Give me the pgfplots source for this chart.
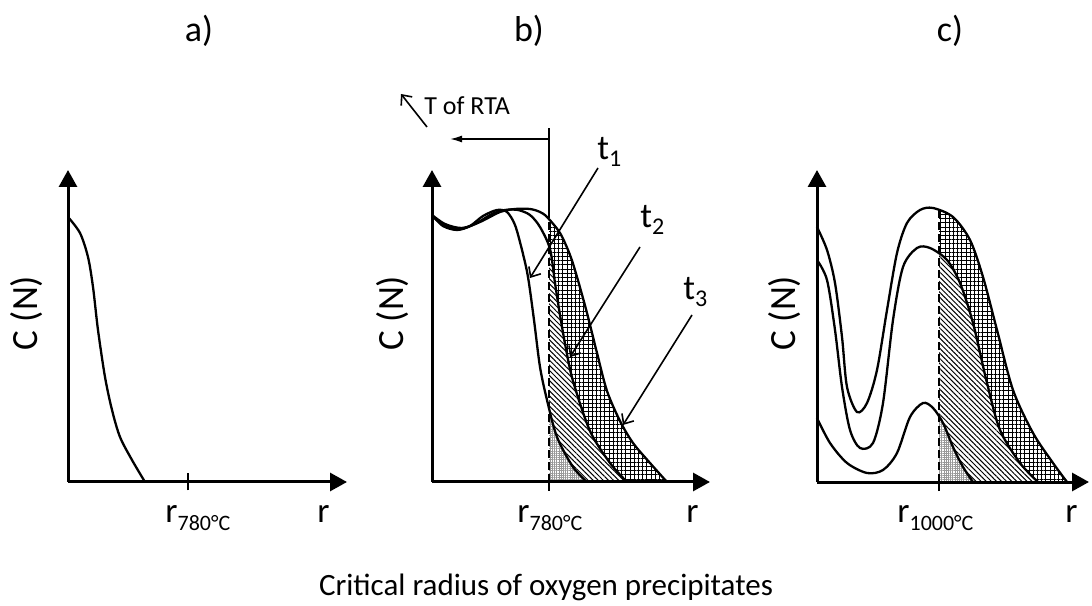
\documentclass[border=0pt]{standalone}
\usepackage{fontspec}
\setmainfont{Carlito}
\usepackage{pgfplots}
\usepackage{pgfplotstable}
\pgfplotsset{compat=1.18}
\usetikzlibrary{patterns.meta,arrows.meta}
\newcommand{\fs}[1]{\fontsize{#1}{#1}\selectfont}

\pgfplotstableread{
x y
68 388
80 372
88 348
93 318
98 275
105 228
112 195
120 168
132 145
145 123
}\curveA

\pgfplotstableread{
x y
432 390
443 379
457 375
470 379
483 389
497 395
507 393
515 380
522 355
528 328
534 285
540 238
547 205
557 168
573 138
587 123
}\tone

\pgfplotstableread{
x y
432 390
443 380
460 376
475 381
492 391
505 395
518 395
530 390
540 378
550 356
555 322
560 290
566 256
573 224
590 174
610 142
627 123
}\ttwo

\pgfplotstableread{
x y
432 390
445 381
462 377
480 383
500 393
515 396
530 396
540 393
547 388
560 372
570 350
577 328
587 292
597 252
607 214
620 184
633 162
650 142
667 123
}\tthree

\pgfplotstableread{
x y
817 378
827 355
835 322
842 268
847 218
857 193
867 202
877 235
887 295
897 352
907 382
920 395
933 397
953 388
970 365
983 328
997 275
1013 215
1033 172
1053 142
1067 123
}\ctop

\pgfplotstableread{
x y
817 345
827 325
835 275
842 218
850 175
860 157
873 162
883 202
893 285
903 338
917 357
930 357
947 345
960 322
973 282
987 222
1000 175
1020 142
1038 123
}\cmid

\pgfplotstableread{
x y
817 187
830 162
847 142
867 132
883 135
897 152
910 188
923 202
933 197
943 182
953 158
963 138
973 123
}\cbot

\tikzset{
  arr/.style={line width=0.8pt, -{Straight Barb[length=4pt,width=7pt]}},
  gridpat/.style={pattern={Hatch[angle=0,distance=2.1pt,line width=0.4pt]}, pattern color=black},
  linepat/.style={pattern={Lines[angle=-45,distance=1.8pt,line width=0.5pt]}, pattern color=black},
  graypat/.style={pattern={Hatch[angle=0,distance=1.1pt,line width=0.3pt]}, pattern color=gray!80},
  lab/.style={anchor=base west, inner sep=0pt},
}
\pgfplotsset{
  panel/.style={
    scale only axis,
    anchor=south west,
    axis x line*=bottom, axis y line*=left,
    axis line style={line width=1.5pt, -{Triangle[length=8.5pt,width=9pt]}},
    xtick=\empty, ytick=\empty,
    ymin=123, ymax=435, height=156pt,
    clip=false, axis on top,
    extra x tick labels={},
    extra x tick style={tick style={line width=1pt, black}},
  },
  curve/.style={smooth, line width=1.15pt, black, mark=none},
  area/.style={smooth, draw=none, mark=none},
}

\begin{document}
\begin{tikzpicture}
\path[use as bounding box] (0,0) rectangle (546pt,302.5pt);

% ---------- panel a ----------
\begin{axis}[panel, at={(34pt,61.5pt)}, width=139.5pt, xmin=68, xmax=347,
  extra x ticks={188}, extra x tick style={major tick length=8.5pt, tick align=center}]
\addplot[curve] table {\curveA};
\node[lab] at (axis cs:165,83) {\fs{17.5}r\raisebox{-4pt}{\fs{11}780°C}};
\node[lab] at (axis cs:317,83) {\fs{17.5}r};
\node[anchor=base] at (axis cs:199,563) {\fs{18}a)};
\node[rotate=90] at (axis cs:27,292) {\fs{18.5}C (N)};
\end{axis}

% ---------- panel b ----------
\begin{axis}[panel, at={(216pt,61.5pt)}, width=139pt, xmin=432, xmax=710,
  extra x ticks={549}, extra x tick style={major tick length=4.5pt, tick align=outside}]
\begin{scope}
\clip (axis cs:549,110) rectangle (axis cs:715,450);
\addplot[area, gridpat] table {\tthree} \closedcycle;
\addplot[area, fill=white] table {\ttwo} \closedcycle;
\addplot[area, linepat] table {\ttwo} \closedcycle;
\addplot[area, fill=white] table {\tone} \closedcycle;
\addplot[area, graypat] table {\tone} \closedcycle;
\end{scope}
\addplot[curve] table {\tone};
\addplot[curve] table {\ttwo};
\addplot[curve] table {\tthree};
\addplot[line width=0.9pt, dash pattern=on 4pt off 2pt] coordinates {(549,123) (549,388)};
\addplot[line width=0.9pt] coordinates {(549,388) (549,477)};
\draw[line width=0.8pt, -{Latex[length=6pt,width=3.5pt]}] (axis cs:549,466) -- (axis cs:450,466);
\draw[arr] (axis cs:427,478) -- (axis cs:401,511);
\node[lab] at (axis cs:424,490) {\fs{13}T of RTA};
\draw[arr] (axis cs:598,437) -- (axis cs:530,327);
\draw[arr] (axis cs:640,358) -- (axis cs:570,248);
\draw[arr] (axis cs:692,290) -- (axis cs:623,180);
\node[lab] at (axis cs:597,445) {\fs{17.5}t\raisebox{-3.5pt}{\fs{12}1}};
\node[lab] at (axis cs:640,377) {\fs{17.5}t\raisebox{-3.5pt}{\fs{12}2}};
\node[lab] at (axis cs:683,305) {\fs{17.5}t\raisebox{-3.5pt}{\fs{12}3}};
\node[lab] at (axis cs:517,83) {\fs{17.5}r\raisebox{-4pt}{\fs{11}780°C}};
\node[lab] at (axis cs:686,83) {\fs{17.5}r};
\node[anchor=base] at (axis cs:529,563) {\fs{18}b)};
\node[rotate=90] at (axis cs:393,292) {\fs{18.5}C (N)};
\node[anchor=base] at (axis cs:546,10) {\fs{15.5}Critical radius of oxygen precipitates};
\end{axis}

% ---------- panel c ----------
\begin{axis}[panel, at={(408.5pt,61.5pt)}, width=136pt, xmin=817, xmax=1089,
  extra x ticks={939}, extra x tick style={major tick length=4.5pt, tick align=outside}]
\begin{scope}
\clip (axis cs:939,110) rectangle (axis cs:1095,450);
\addplot[area, gridpat] table {\ctop} \closedcycle;
\addplot[area, fill=white] table {\cmid} \closedcycle;
\addplot[area, linepat] table {\cmid} \closedcycle;
\addplot[area, fill=white] table {\cbot} \closedcycle;
\addplot[area, graypat] table {\cbot} \closedcycle;
\end{scope}
\addplot[curve] table {\ctop};
\addplot[curve] table {\cmid};
\addplot[curve] table {\cbot};
\addplot[line width=0.9pt, dash pattern=on 4pt off 2pt] coordinates {(939,123) (939,396)};
\node[lab] at (axis cs:897,83) {\fs{17.5}r\raisebox{-4pt}{\fs{11}1000°C}};
\node[lab] at (axis cs:1065,83) {\fs{17.5}r};
\node[anchor=base] at (axis cs:950,563) {\fs{18}c)};
\node[rotate=90] at (axis cs:785,292) {\fs{18.5}C (N)};
\end{axis}
\end{tikzpicture}
\end{document}
